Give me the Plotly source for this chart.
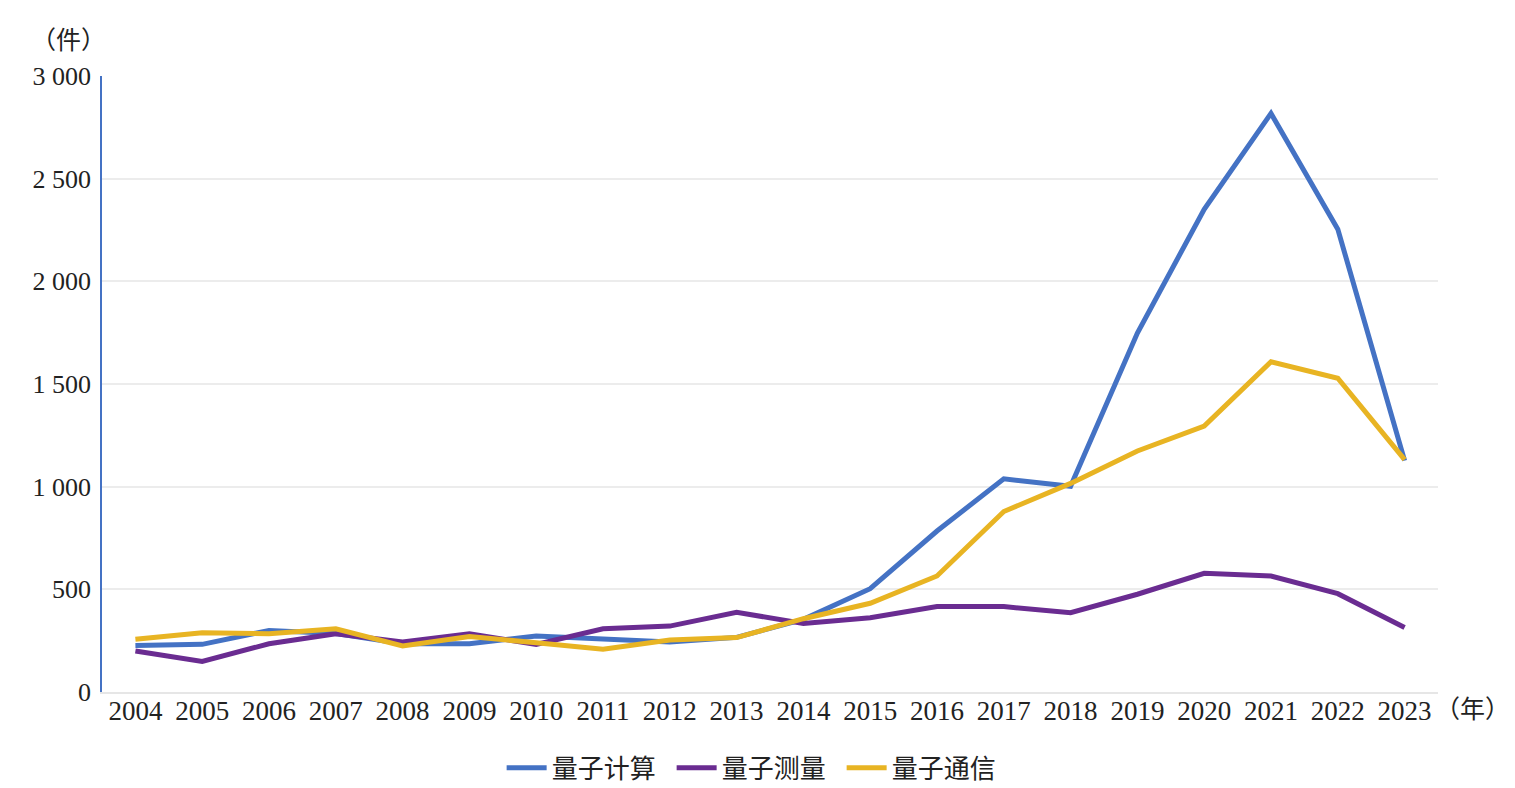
import plotly.graph_objects as go

years = ["2004", "2005", "2006", "2007", "2008", "2009", "2010", "2011", "2012", "2013",
         "2014", "2015", "2016", "2017", "2018", "2019", "2020", "2021", "2022", "2023"]
computing = [226, 232, 300, 285, 235, 235, 273, 260, 244, 266,
             354, 503, 784, 1038, 1002, 1748, 2351, 2818, 2254, 1127]
measurement = [200, 149, 235, 284, 244, 284, 232, 308, 321, 388,
               334, 362, 416, 416, 386, 476, 578, 565, 479, 314]
communication = [257, 289, 284, 308, 224, 270, 240, 208, 253, 265,
                 357, 432, 565, 879, 1016, 1174, 1295, 1608, 1528, 1132]
y_ticks = [0, 500, 1000, 1500, 2000, 2500, 3000]
y_tick_text = ["0", "500", "1 000", "1 500", "2 000", "2 500", "3 000"]
series_names = ["量子计算", "量子测量", "量子通信"]
colors = ["#4472C4", "#6A2C91", "#E8B423"]

font_family = "Liberation Serif, Noto Sans CJK SC, serif"

fig = go.Figure()
for name, vals, col in zip(series_names, [computing, measurement, communication], colors):
    fig.add_trace(go.Scatter(x=years, y=vals, mode="lines", name=name,
                             line=dict(color=col, width=5)))

fig.update_layout(
    width=1515, height=788,
    margin=dict(l=94, r=85, t=68, b=104, autoexpand=False),
    paper_bgcolor="white", plot_bgcolor="white",
    font=dict(family=font_family, size=26, color="#222222"),
    showlegend=True,
    legend=dict(orientation="h", x=0.49, xanchor="center", y=-0.123, yanchor="middle",
                font=dict(size=26, family=font_family), itemwidth=40,
                entrywidth=115),
    xaxis=dict(type="category", range=[-0.5, 19.5], showgrid=False,
               showline=True, linecolor="#e6e6e6", linewidth=1.5,
               ticks="", ticklabelstandoff=-6,
               tickfont=dict(size=27, family=font_family)),
    yaxis=dict(range=[0, 3000], tickvals=y_ticks, ticktext=y_tick_text,
               showgrid=True, gridcolor="#ececec", gridwidth=1.5,
               showline=True, linecolor="#4472C4", linewidth=1.5,
               zeroline=False, ticks="", ticklen=0, ticklabelstandoff=4,
               tickfont=dict(size=26, family=font_family)),
)

fig.add_annotation(text="（件）", xref="paper", yref="paper", x=-0.0254, y=1.058,
                   xanchor="center", yanchor="middle", showarrow=False,
                   font=dict(size=25, family=font_family))
fig.add_annotation(text="（年）", xref="paper", yref="paper", x=1.026, y=-0.029,
                   xanchor="center", yanchor="middle", showarrow=False,
                   font=dict(size=25, family=font_family))

fig.write_html("out.html")
